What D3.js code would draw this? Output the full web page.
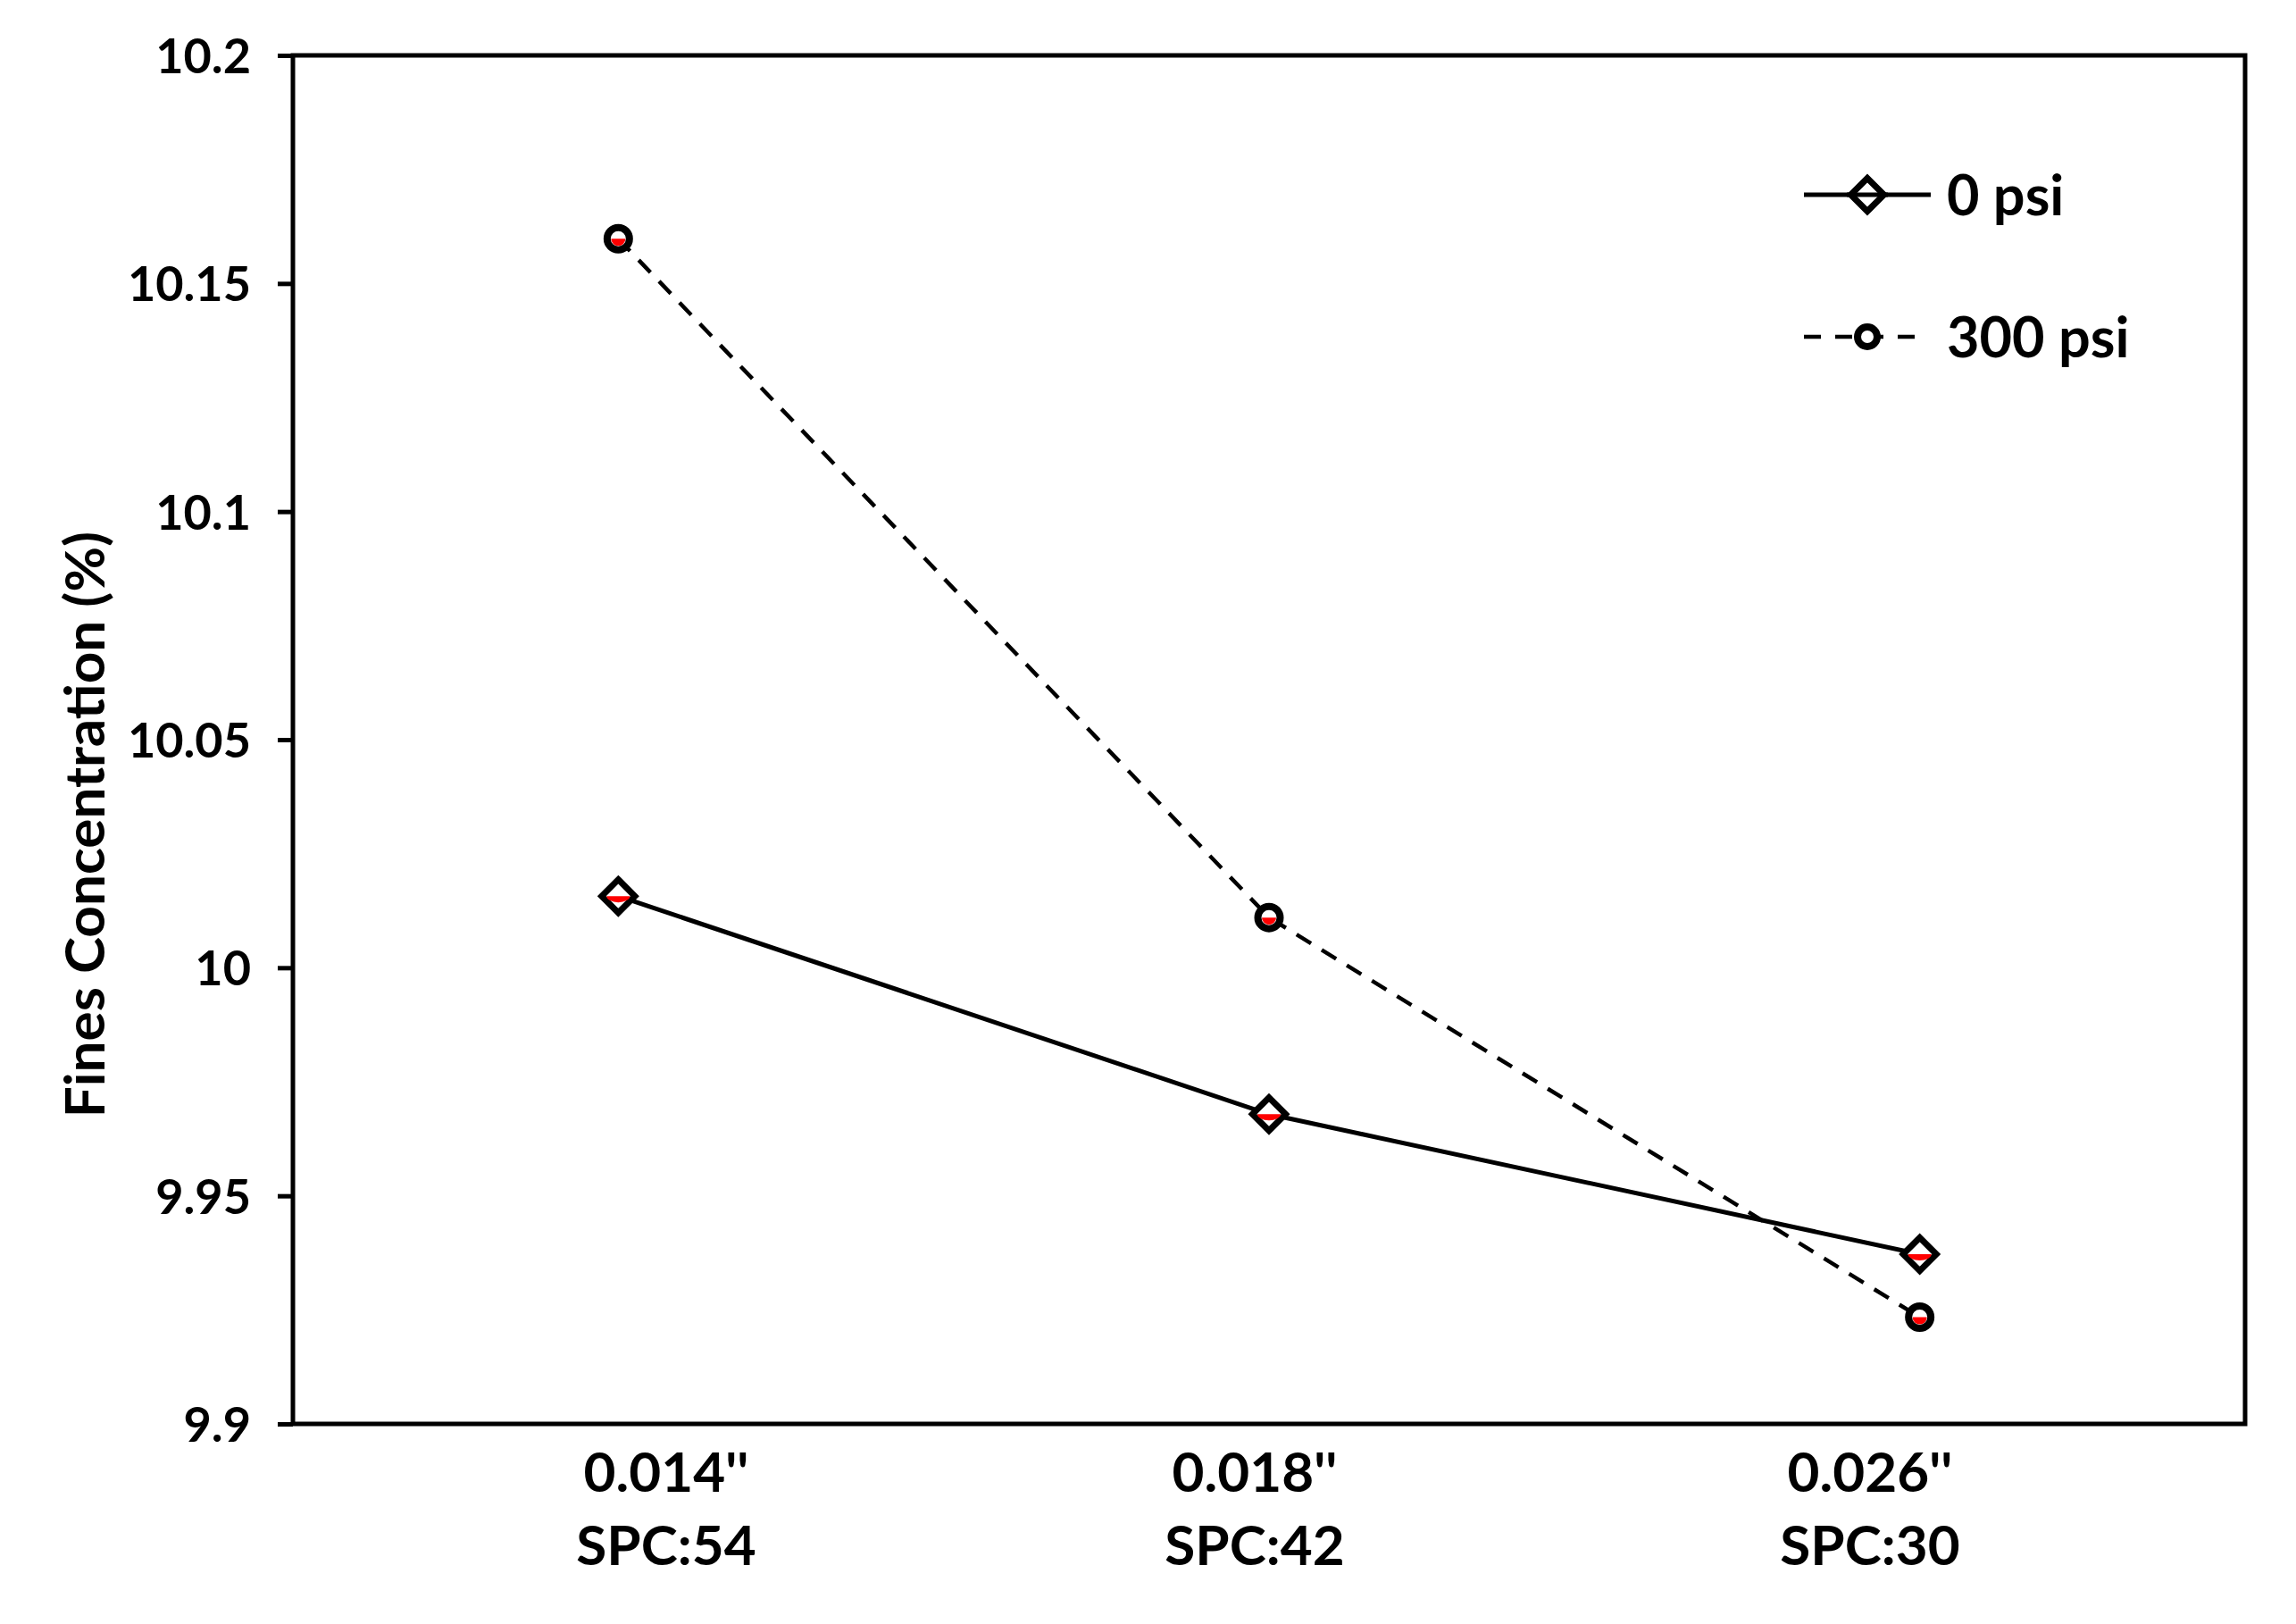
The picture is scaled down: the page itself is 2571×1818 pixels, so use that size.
<!DOCTYPE html>
<html>
<head>
<meta charset="utf-8">
<script src="https://cdn.jsdelivr.net/npm/d3@7"></script>
<style>
  body { margin: 0; background: #fff; }
  text { font-family: Lato, "Open Sans", sans-serif; font-weight: bold; fill: #000; }
</style>
</head>
<body>
<svg id="chart" width="2571" height="1818"></svg>
<script>
var categories = ["0.014''", "0.018''", "0.026''"];
var subLabels = ["SPC:54", "SPC:42", "SPC:30"];
var psi0 = [10.0157, 9.9679, 9.9372];
var psi300 = [10.1598, 10.0110, 9.9234];
var yTicks = [9.9, 9.95, 10, 10.05, 10.1, 10.15, 10.2];
var seriesNames = ["0 psi", "300 psi"];

var svg = d3.select("#chart"),
  margin = {top: 62, right: 57, bottom: 224, left: 328},
  width = +svg.attr("width") - margin.left - margin.right,
  height = +svg.attr("height") - margin.top - margin.bottom,
  g = svg.append("g").attr("transform", "translate(" + margin.left + "," + margin.top + ")");

var x = d3.scaleBand()
  .domain(categories)
  .range([0, width]);

// the category labels don't sit right under the points in the original
var xLabel = d3.scaleOrdinal()
  .domain(categories)
  .range([418, 1077, 1766]);

var y = d3.scaleLinear()
  .domain([9.9, 10.2])
  .range([height, 0]);

function cx(i) { return x(categories[i]) + x.bandwidth() / 2; }

// y axis
var yAxis = g.append("g")
  .call(d3.axisLeft(y).tickValues(yTicks).tickSize(17).tickPadding(30)
    .tickFormat(function(d) { return d3.format("")(+d.toFixed(2)); }));
yAxis.select(".domain").remove();
yAxis.selectAll("line").attr("stroke", "#000").attr("stroke-width", 5);
yAxis.selectAll("text").style("font-size", "54px").attr("dy", "0.36em");

// x labels (two lines each)
var xl = g.append("g")
  .attr("transform", "translate(0," + height + ")")
  .selectAll("g")
  .data(categories)
  .enter().append("g")
  .attr("transform", function(d) { return "translate(" + xLabel(d) + ",0)"; });
xl.append("text")
  .attr("y", 54)
  .attr("dy", "0.36em")
  .attr("text-anchor", "middle")
  .style("font-size", "62px")
  .text(function(d) { return d; });
xl.append("text")
  .attr("y", 136)
  .attr("dy", "0.36em")
  .attr("text-anchor", "middle")
  .style("font-size", "62px")
  .text(function(d, i) { return subLabels[i]; });

// frame
g.append("rect")
  .attr("width", width)
  .attr("height", height)
  .attr("fill", "none")
  .attr("stroke", "#000")
  .attr("stroke-width", 5);

// y label
svg.append("text")
  .attr("transform", "translate(95," + 923 + ") rotate(-90)")
  .attr("text-anchor", "middle")
  .attr("dy", "0.35em")
  .style("font-size", "62px")
  .text("Fines Concentration (%)");

var line = d3.line()
  .x(function(d, i) { return cx(i); })
  .y(function(d) { return y(d); });

g.append("path")
  .datum(psi300)
  .attr("fill", "none")
  .attr("stroke", "#000")
  .attr("stroke-width", 4.5)
  .attr("stroke-dasharray", "19,14")
  .attr("d", line);

g.append("path")
  .datum(psi0)
  .attr("fill", "none")
  .attr("stroke", "#000")
  .attr("stroke-width", 5)
  .attr("d", line);

var diamond = d3.symbol().type(d3.symbolDiamond2).size(880);

function drawDiamond(sel) {
  sel.append("path").attr("d", diamond)
    .attr("fill", "#fff").attr("stroke", "#000").attr("stroke-width", 7);
  sel.append("path").attr("d", "M-13,0 a13,7 0 0,0 26,0 z").attr("fill", "#ff0000");
}
function drawCircle(sel) {
  sel.append("circle").attr("r", 12.5)
    .attr("fill", "#fff").attr("stroke", "#000").attr("stroke-width", 8);
  sel.append("path").attr("d", "M-8,0 a8,8 0 0,0 16,0 z").attr("fill", "#ff0000");
}

g.selectAll(".m0")
  .data(psi0)
  .enter().append("g")
  .attr("class", "m0")
  .attr("transform", function(d, i) { return "translate(" + cx(i) + "," + y(d) + ")"; })
  .call(drawDiamond);

g.selectAll(".m300")
  .data(psi300)
  .enter().append("g")
  .attr("class", "m300")
  .attr("transform", function(d, i) { return "translate(" + cx(i) + "," + y(d) + ")"; })
  .call(drawCircle);

// legend
var legend = svg.append("g").attr("transform", "translate(2020,218)");
var l0 = legend.append("g");
l0.append("line").attr("x1", 0).attr("x2", 142).attr("stroke", "#000").attr("stroke-width", 5);
l0.append("g").attr("transform", "translate(71,0)").append("path").attr("d", diamond)
  .attr("fill", "#fff").attr("stroke", "#000").attr("stroke-width", 7);
l0.append("line").attr("x1", 48).attr("x2", 94).attr("stroke", "#000").attr("stroke-width", 5);
l0.append("text").attr("x", 160).attr("dy", "0.36em").style("font-size", "63px").text(seriesNames[0]);

var l1 = legend.append("g").attr("transform", "translate(0,159)");
l1.append("line").attr("x1", 0).attr("x2", 140).attr("stroke", "#000").attr("stroke-width", 4.5)
  .attr("stroke-dasharray", "19,16");
l1.append("circle").attr("cx", 71).attr("r", 11)
  .attr("fill", "#fff").attr("stroke", "#000").attr("stroke-width", 8);
l1.append("text").attr("x", 160).attr("dy", "0.36em").style("font-size", "63px").text(seriesNames[1]);
</script>
</body>
</html>
